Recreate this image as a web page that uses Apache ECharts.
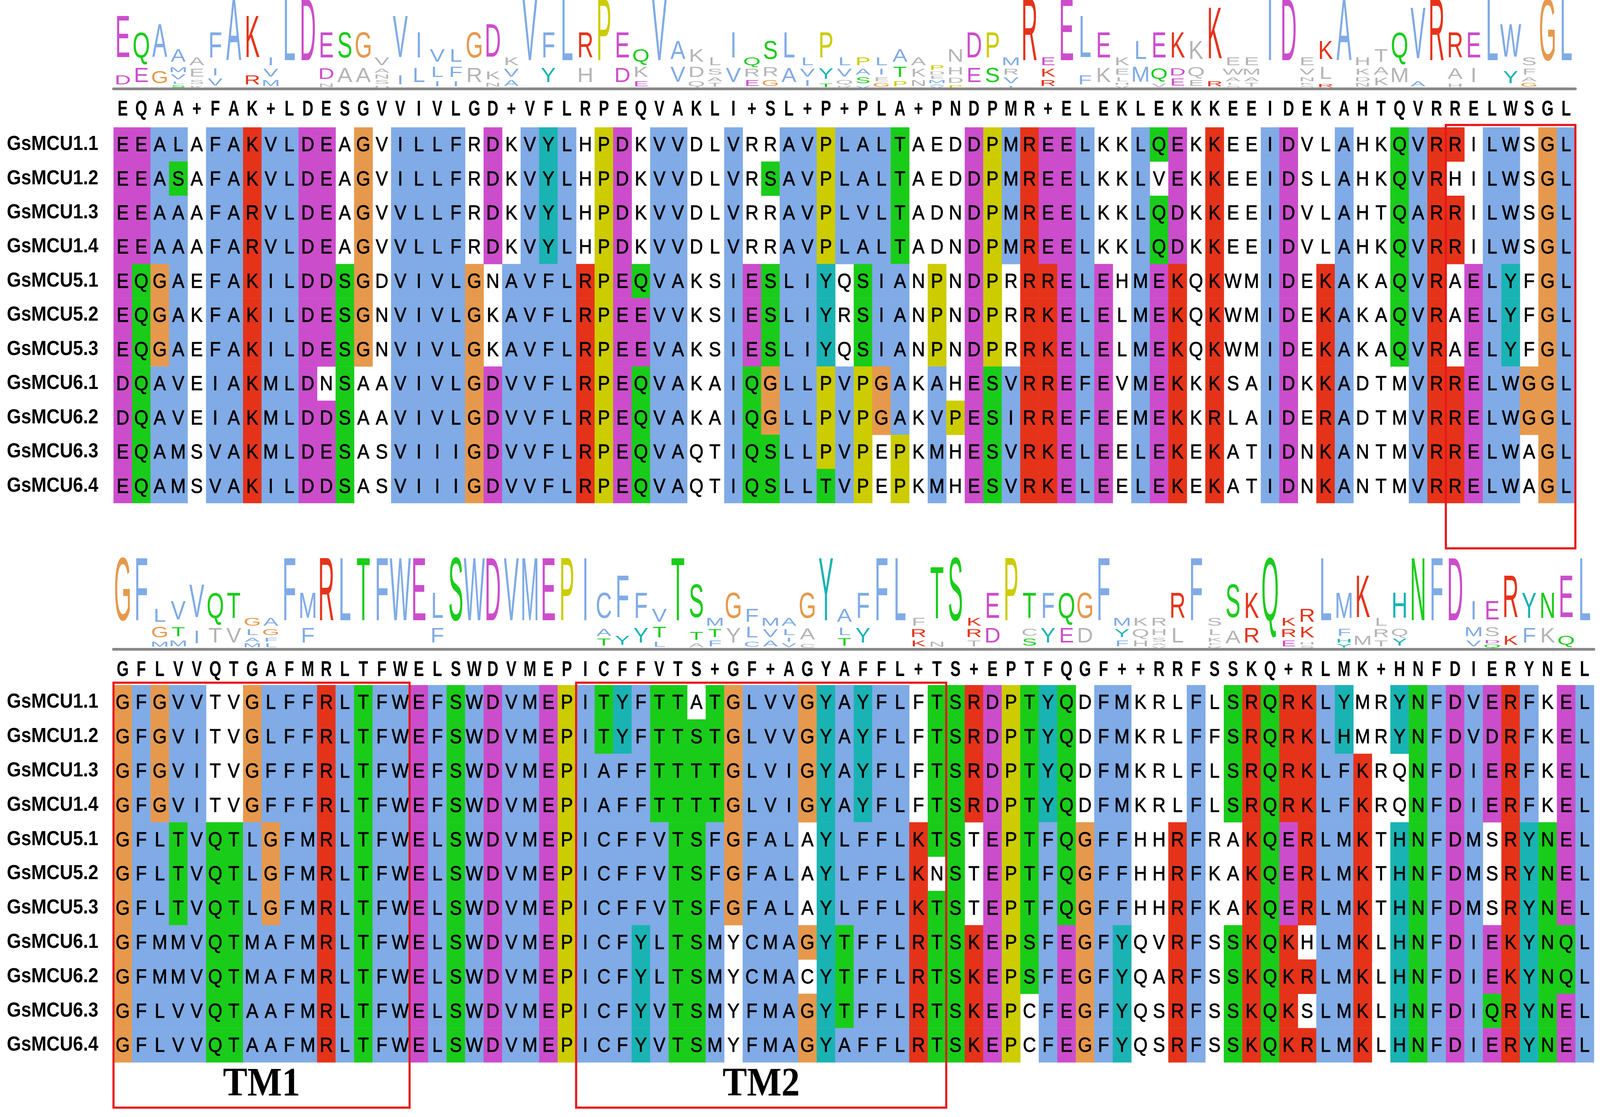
<!DOCTYPE html>
<html>
<head>
<meta charset="utf-8">
<title>GsMCU alignment</title>
<script src="https://cdn.jsdelivr.net/npm/echarts/dist/echarts.min.js"></script>
<style>
  html, body { margin: 0; padding: 0; background: #fff; overflow: hidden; }
  #chart { width: 100vw; height: 100vh; }
</style>
</head>
<body>
<div id="chart"></div>
<script>
// sequence names, one per row
var names = ['GsMCU1.1', 'GsMCU1.2', 'GsMCU1.3', 'GsMCU1.4', 'GsMCU5.1', 'GsMCU5.2',
             'GsMCU5.3', 'GsMCU6.1', 'GsMCU6.2', 'GsMCU6.3', 'GsMCU6.4'];

// first block of the alignment (79 columns)
var block1 = [
  'EEALAFAKVLDEAGVILLFRDKVYLHPDKVVDLVRRAVPLALTAEDDPMREELKKLQEKKEEIDVLAHKQVRRILWSGL',
  'EEASAFAKVLDEAGVILLFRDKVYLHPDKVVDLVRSAVPLALTAEDDPMREELKKLVEKKEEIDSLAHKQVRHILWSGL',
  'EEAAAFARVLDEAGVVLLFRDKVYLHPDKVVDLVRRAVPLVLTADNDPMREELKKLQDKKEEIDVLAHTQARRILWSGL',
  'EEAAAFARVLDEAGVVLLFRDKVYLHPDKVVDLVRRAVPLALTADNDPMREELKKLQDKKEEIDVLAHKQVRRILWSGL',
  'EQGAEFAKILDDSGDVIVLGNAVFLRPEQVAKSIESLIYQSIANPNDPRRRELEHMEKQKWMIDEKAKAQVRAELYFGL',
  'EQGAKFAKILDESGNVIVLGKAVFLRPEEVVKSIESLIYRSIANPNDPRRKELELMEKQKWMIDEKAKAQVRAELYFGL',
  'EQGAEFAKILDESGNVIVLGKAVFLRPEEVAKSIESLIYQSIANPNDPRRKELELMEKQKWMIDEKAKAQVRAELYFGL',
  'DQAVEIAKMLDNSAAVIVLGDVVFLRPEQVAKAIQGLLPVPGAKAHESVRREFEVMEKKKSAIDKKADTMVRRELWGGL',
  'DQAVEIAKMLDDSAAVIVLGDVVFLRPEQVAKAIQGLLPVPGAKVPESIRREFEEMEKKRLAIDERADTMVRRELWGGL',
  'EQAMSVAKMLDESASVIIIGDVVFLRPEQVAQTIQSLLPVPEPKMHESVRKELEELEKEKATIDNKANTMVRRELWAGL',
  'EQAMSVAKILDDSASVIIIGDVVFLRPEQVAQTIQSLLTVPEPKMHESVRKELEELEKEKATIDNKANTMVRRELWAGL'
];

// second block (80 columns)
var block2 = [
  'GFGVVTVGLFFRLTFWEFSWDVMEPITYFTTATGLVVGYAYFLFTSRDPTYQDFMKRLFLSRQRKLYMRYNFDVERFKEL',
  'GFGVITVGLFFRLTFWEFSWDVMEPITYFTTSTGLVVGYAYFLFTSRDPTYQDFMKRLFFSRQRKLHMRYNFDVDRFKEL',
  'GFGVITVGFFFRLTFWEFSWDVMEPIAFFTTTTGLVIGYAYFLFTSRDPTYQDFMKRLFLSRQRKLFKRQNFDIERFKEL',
  'GFGVITVGFFFRLTFWEFSWDVMEPIAFFTTTTGLVIGYAYFLFTSRDPTYQDFMKRLFLSRQRKLFKRQNFDIERFKEL',
  'GFLTVQTLGFMRLTFWELSWDVMEPICFFVTSFGFALAYLFFLKTSTEPTFQGFFHHRFRAKQERLMKTHNFDMSRYNEL',
  'GFLTVQTLGFMRLTFWELSWDVMEPICFFVTSFGFALAYLFFLKNSTEPTFQGFFHHRFKAKQERLMKTHNFDMSRYNEL',
  'GFLTVQTLGFMRLTFWELSWDVMEPICFFVTSFGFALAYLFFLKTSTEPTFQGFFHHRFKAKQERLMKTHNFDMSRYNEL',
  'GFMMVQTMAFMRLTFWELSWDVMEPICFYLTSMYCMAGYTFFLRTSKEPSFEGFYQVRFSSKQKHLMKLHNFDIEKYNQL',
  'GFMMVQTMAFMRLTFWELSWDVMEPICFYLTSMYCMACYTFFLRTSKEPSFEGFYQARFSSKQKRLMKLHNFDIEKYNQL',
  'GFLVVQTAAFMRLTFWELSWDVMEPICFYVTSMYFMAGYTFFLRTSKEPCFEGFYQSRFSSKQKSLMKLHNFDIQRYNEL',
  'GFLVVQTAAFMRLTFWELSWDVMEPICFYVTSMYFMAGYAFFLRTSKEPCFEGFYQSRFSSKQKRLMKLHNFDIERYNEL'
];

// consensus lines printed under the logos
var consensus1 = 'EQAA+FAK+LDESGVVIVLGD+VFLRPEQVAKLI+SL+P+PLA+PNDPMR+ELEKLEKKKEEIDEKAHTQVRRELWSGL';
var consensus2 = 'GFLVVQTGAFMRLTFWELSWDVMEPICFFVTS+GF+AGYAFFL+TS+EPTFQGF++RRFSSKQ+RLMK+HNFDIERYNEL';

// boxed column ranges (1-based, inclusive)
var block1Boxes = [[73, 79]];
var block2Boxes = [[1, 16], [26, 45]];
var block2BoxLabels = ['TM1', 'TM2'];

var SANS = '"Liberation Sans", Arial, sans-serif';

var colours = {
  blue: '#80abe6', red: '#e5331a', green: '#1acc1a', magenta: '#cc4dcc',
  yellow: '#cccc00', cyan: '#1ab3b3', orange: '#e6994d', pink: '#e68080'
};

var myChart = echarts.init(document.getElementById('chart'));
// the layout is measured on the 4548 x 2860 picture, stretched to the page
var KX = myChart.getWidth() / 4548;
var KY = myChart.getHeight() / 2860;
var SY = KY / KX; // extra vertical stretch for text
function px(v) { return v * KX; }
function py(v) { return v * KY; }

var COL_W = px(52.6);
var LEFT = px(322.6);

function columnCounts(seqs, i) {
  var c = {};
  seqs.forEach(function (s) { c[s[i]] = (c[s[i]] || 0) + 1; });
  return c;
}

// clustalx colouring, threshold rules on the column make-up
function clustalColour(res, counts, n) {
  function pct(ch) { return (counts[ch] || 0) * 100 / n; }
  function grp(s) { return s.split('').reduce(function (a, ch) { return a + pct(ch); }, 0); }
  function any85(s) { return s.split('').some(function (ch) { return pct(ch) > 85; }); }
  var hyd = grp('WLVIMAFCYHP') > 60;
  var kr = grp('KR') > 60;
  var qe = grp('QE') > 50;
  var ed = grp('ED') > 50;
  var ts = grp('TS') > 50;
  switch (res) {
    case 'A': case 'I': case 'L': case 'M': case 'F': case 'W': case 'V':
      return hyd ? colours.blue : null;
    case 'C':
      if (any85('C')) return colours.pink;
      return hyd ? colours.blue : null;
    case 'K': case 'R':
      return (kr || any85('KRQ')) ? colours.red : null;
    case 'E':
      return (kr || qe || ed || any85('EQD')) ? colours.magenta : null;
    case 'D':
      return (kr || ed || any85('KRQ')) ? colours.magenta : null;
    case 'N':
      return (pct('N') > 50 || any85('NY')) ? colours.green : null;
    case 'Q':
      return (kr || qe || any85('QEKR')) ? colours.green : null;
    case 'S': case 'T':
      return (hyd || ts || any85('ST')) ? colours.green : null;
    case 'G': return colours.orange;
    case 'P': return colours.yellow;
    case 'H': case 'Y':
      return (hyd || any85('WYACPQFHILMV')) ? colours.cyan : null;
  }
  return null;
}

function buildCells(seqs) {
  var data = [], info = [];
  var n = seqs.length, len = seqs[0].length;
  for (var i = 0; i < len; i++) {
    var counts = columnCounts(seqs, i);
    for (var r = 0; r < n; r++) {
      var ch = seqs[r][i];
      data.push([i, r]);
      info.push({ ch: ch, color: clustalColour(ch, counts, n) });
    }
  }
  return { data: data, info: info };
}

function buildLogo(seqs) {
  var n = seqs.length, len = seqs[0].length;
  var stacks = [], data = [];
  for (var i = 0; i < len; i++) {
    var counts = columnCounts(seqs, i);
    var keys = Object.keys(counts).sort(function (a, b) { return counts[a] - counts[b] || (a < b ? 1 : -1); });
    var bar = counts[keys[keys.length - 1]] / n;
    stacks.push(keys.map(function (k) {
      var c = clustalColour(k, counts, n);
      return { ch: k, h: bar * counts[k] / n, color: c || '#b4b4b4' };
    }));
    data.push([i, bar]);
  }
  return { data: data, stacks: stacks };
}

function cellRenderer(info) {
  return function (params, api) {
    var d = info[params.dataIndex];
    var p = api.coord([api.value(0), api.value(1)]);
    var s = api.size([1, 1]);
    var children = [];
    if (d.color) {
      children.push({
        type: 'rect',
        shape: { x: p[0] - s[0] / 2, y: p[1] - s[1] / 2, width: s[0] + 0.6, height: s[1] + 0.6 },
        style: { fill: d.color }
      });
    }
    children.push({
      type: 'text', x: p[0], y: p[1] + py(3), scaleY: SY,
      style: { text: d.ch, font: px(52) + 'px ' + SANS, fill: '#000', stroke: '#000', lineWidth: px(1),
               align: 'center', verticalAlign: 'middle' }
    });
    return { type: 'group', children: children };
  };
}

function nameRenderer(params, api) {
  var r = api.value(1);
  var p = api.coord([0, r]);
  var s = api.size([1, 1]);
  return {
    type: 'text', x: p[0] - s[0] / 2 - px(43), y: p[1], scaleY: SY,
    style: { text: names[r], font: 'bold ' + px(52) + 'px ' + SANS, fill: '#000',
             align: 'right', verticalAlign: 'middle' }
  };
}

var LOGO_FONT = px(64);
function logoRenderer(stacks) {
  return function (params, api) {
    var i = api.value(0);
    var children = [];
    var cum = 0;
    stacks[i].forEach(function (s) {
      var y0 = api.coord([i, cum])[1];
      cum += s.h;
      var top = api.coord([i, cum]);
      var cap = (y0 - top[1]) * 0.75;
      if (cap < 0.8) return;
      children.push({
        type: 'text', x: top[0], y: top[1] + cap / 2,
        scaleY: cap / (0.716 * LOGO_FONT),
        style: { text: s.ch, font: LOGO_FONT + 'px ' + SANS, fill: s.color,
                 align: 'center', verticalAlign: 'middle' }
      });
    });
    return { type: 'group', children: children };
  };
}

function consensusRenderer(text) {
  return function (params, api) {
    var i = api.value(0);
    var p = api.coord([i, 0]);
    return {
      type: 'text', x: p[0], y: p[1] + py(54), scaleY: 1.27 * SY,
      style: { text: text[i], font: 'bold ' + px(44) + 'px ' + SANS, fill: '#000',
               align: 'center', verticalAlign: 'middle' }
    };
  };
}

function boxRenderer(boxes, labels, nRows) {
  return function (params, api) {
    var b = boxes[params.dataIndex];
    var s = api.size([1, 1]);
    var a = api.coord([b[0] - 1, 0]);
    var z = api.coord([b[1] - 1, nRows - 1]);
    var x0 = a[0] - s[0] / 2, x1 = z[0] + s[0] / 2;
    var y0 = a[1] - s[1] / 2 - py(6), y1 = z[1] + s[1] / 2 + py(116);
    var children = [{
      type: 'rect', shape: { x: x0, y: y0, width: x1 - x0, height: y1 - y0 },
      style: { fill: 'none', stroke: '#e8161b', lineWidth: px(6) }
    }];
    if (labels && labels[params.dataIndex]) {
      children.push({
        type: 'text', x: (x0 + x1) / 2, y: z[1] + s[1] / 2 + py(58), scaleY: SY,
        style: { text: labels[params.dataIndex], font: 'bold ' + px(104) + 'px "Liberation Serif", serif',
                 fill: '#000', align: 'center', verticalAlign: 'middle' }
      });
    }
    return { type: 'group', children: children };
  };
}

var cols1 = block1[0].split('').map(function (c, i) { return String(i + 1); });
var cols2 = block2[0].split('').map(function (c, i) { return String(i + 1); });
var cells1 = buildCells(block1), cells2 = buildCells(block2);
var logo1 = buildLogo(block1), logo2 = buildLogo(block2);
var rowData = names.map(function (nm, r) { return [0, r]; });

function logoX(idx, data, off) {
  return {
    gridIndex: idx, type: 'category', data: data, offset: py(off),
    axisLine: { show: true, lineStyle: { color: '#878787', width: py(7) } },
    axisTick: { show: false }, axisLabel: { show: false }, splitLine: { show: false }
  };
}
function nameY(idx) {
  return { gridIndex: idx, type: 'category', data: names, inverse: true, show: false };
}

option = {
  backgroundColor: '#ffffff',
  animation: false,
  grid: [
    { left: LEFT, top: py(10), width: cols1.length * COL_W, height: py(217) },
    { left: LEFT, top: py(326), width: cols1.length * COL_W, height: py(962) },
    { left: LEFT, top: py(1443), width: cols2.length * COL_W, height: py(219) },
    { left: LEFT, top: py(1754), width: cols2.length * COL_W, height: py(966) }
  ],
  xAxis: [
    logoX(0, cols1, 6.5),
    { gridIndex: 1, type: 'category', data: cols1, show: false },
    logoX(2, cols2, 8),
    { gridIndex: 3, type: 'category', data: cols2, show: false }
  ],
  yAxis: [
    { gridIndex: 0, type: 'value', min: 0, max: 1, show: false },
    nameY(1),
    { gridIndex: 2, type: 'value', min: 0, max: 1, show: false },
    nameY(3)
  ],
  series: [
    { type: 'custom', xAxisIndex: 0, yAxisIndex: 0, silent: true, data: logo1.data, renderItem: logoRenderer(logo1.stacks) },
    { type: 'custom', xAxisIndex: 0, yAxisIndex: 0, silent: true, data: logo1.data, renderItem: consensusRenderer(consensus1) },
    { type: 'custom', xAxisIndex: 1, yAxisIndex: 1, silent: true, data: cells1.data, renderItem: cellRenderer(cells1.info) },
    { type: 'custom', xAxisIndex: 1, yAxisIndex: 1, silent: true, data: rowData, renderItem: nameRenderer },
    { type: 'custom', xAxisIndex: 1, yAxisIndex: 1, silent: true, z: 5,
      data: block1Boxes.map(function (b) { return [b[0] - 1, 0]; }),
      renderItem: boxRenderer(block1Boxes, null, names.length) },
    { type: 'custom', xAxisIndex: 2, yAxisIndex: 2, silent: true, data: logo2.data, renderItem: logoRenderer(logo2.stacks) },
    { type: 'custom', xAxisIndex: 2, yAxisIndex: 2, silent: true, data: logo2.data, renderItem: consensusRenderer(consensus2) },
    { type: 'custom', xAxisIndex: 3, yAxisIndex: 3, silent: true, data: cells2.data, renderItem: cellRenderer(cells2.info) },
    { type: 'custom', xAxisIndex: 3, yAxisIndex: 3, silent: true, data: rowData, renderItem: nameRenderer },
    { type: 'custom', xAxisIndex: 3, yAxisIndex: 3, silent: true, z: 5,
      data: block2Boxes.map(function (b) { return [b[0] - 1, 0]; }),
      renderItem: boxRenderer(block2Boxes, block2BoxLabels, names.length) }
  ]
};

myChart.setOption(option);
window.onresize = function () { myChart.resize(); };
</script>
</body>
</html>
